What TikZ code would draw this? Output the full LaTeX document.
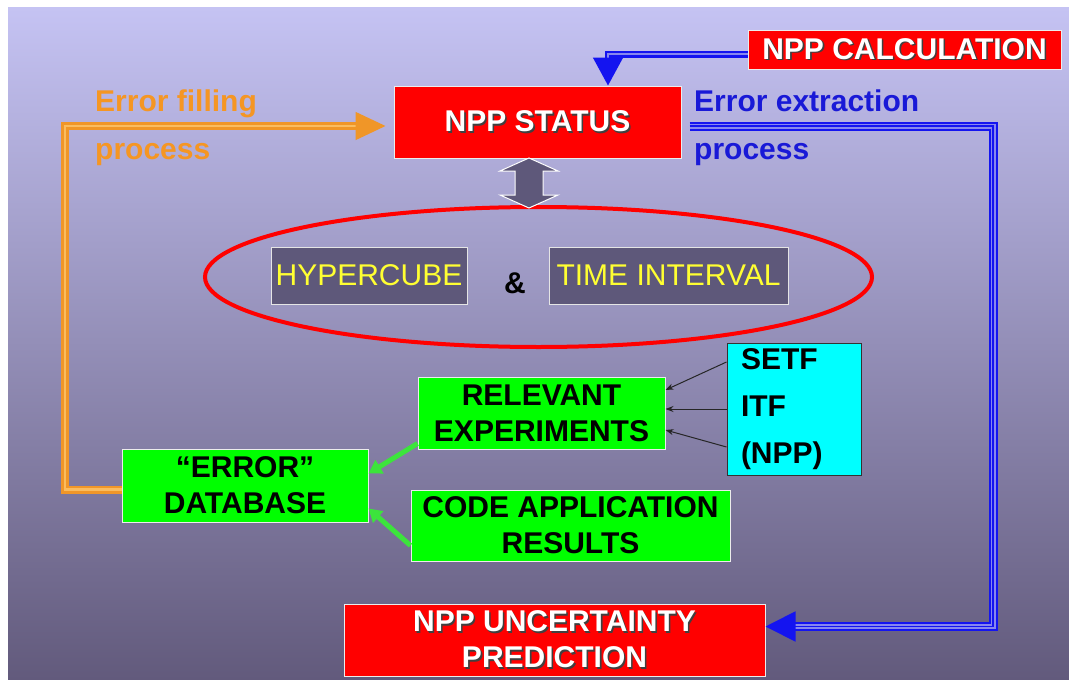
\documentclass[tikz,border=0pt]{standalone}
\usepackage{fontspec}
\setmainfont{Liberation Sans}
\usetikzlibrary{shapes.geometric,arrows.meta}
\definecolor{bgtop}{RGB}{197,195,243}
\definecolor{bgmid}{RGB}{150,145,198}
\definecolor{bgbot}{RGB}{98,90,124}
\definecolor{orgC}{RGB}{240,150,40}
\definecolor{orgL}{RGB}{250,188,95}
\definecolor{orgT}{RGB}{245,150,35}
\definecolor{blueC}{RGB}{20,20,240}
\definecolor{blueG}{RGB}{135,135,238}
\definecolor{blueT}{RGB}{25,25,215}
\definecolor{grayF}{RGB}{94,88,122}
\definecolor{greenF}{RGB}{0,255,0}
\definecolor{greenA}{RGB}{60,228,60}
\definecolor{cyanF}{RGB}{0,255,255}
\definecolor{yellowT}{RGB}{255,255,50}
\newcommand\shd[1]{\leavevmode\rlap{\kern1.6pt\raisebox{-1.6pt}{\color{black!75}#1}}#1}
\begin{document}
\begin{tikzpicture}[x=1pt,y=-1pt,
  every node/.style={font=\fontsize{30}{36}\selectfont\bfseries},
  redbox/.style={fill=red, draw=white!85!gray, line width=1, text=white, inner sep=0, align=center},
  greenbox/.style={fill=greenF, draw=white!85!gray, line width=1, text=black, inner sep=0, align=center},
  graybox/.style={fill=grayF, draw=white!80!gray, line width=1, text=yellowT, inner sep=0, font=\fontsize{30}{36}\selectfont},
  cyanbox/.style={fill=cyanF, draw=black!80, line width=1, text=black, inner xsep=14, inner ysep=0, align=left},
  orangeline/.style={draw=orgL, line width=1.5, -{Triangle[length=30,width=28,color=orgC]},
    preaction={draw=orgC, line width=8, -, shorten >=15},
    preaction={draw=orgL, line width=2.5, -, shorten >=15}},
  bluedouble/.style={draw=blueG, line width=1.5, -{Triangle[length=28,width=30,color=blueC]},
    preaction={draw=blueC, line width=7, -, shorten >=14},
    preaction={draw=blueG, line width=2.5, -, shorten >=14}},
  bluetriple/.style={draw=blueC, line width=1.8, -{Triangle[length=30,width=30]},
    preaction={draw=blueC, line width=9, -, shorten >=15},
    preaction={draw=blueG, line width=5, -, shorten >=15}},
  greenarrow/.style={draw=greenA, line width=5, -{Triangle[length=13,width=15]}},
  thinarrow/.style={draw=black!85, line width=1, -{Stealth[length=8,width=6]}}
]
\useasboundingbox (0,0) rectangle (1069,680);
\fill[white] (0,0) rectangle (1069,680);
\shade[top color=bgtop, middle color=bgmid, bottom color=bgbot] (8,7) rectangle (1069,680);

% boxes
\node[redbox, minimum width=313, minimum height=39] (calc) at (904.5,49.5) {\shd{NPP CALCULATION}};
\node[redbox, minimum width=287, minimum height=72] (status) at (537.5,122) {\shd{NPP STATUS}};
\node[redbox, minimum width=421, minimum height=72] (unc) at (554.5,640) {\shd{NPP UNCERTAINTY}\\\shd{PREDICTION}};

\node[draw=red, line width=4, ellipse, minimum width=667, minimum height=140, inner sep=0] (ell) at (538.5,277) {};
\node[graybox, minimum width=196, minimum height=57] (hyper) at (369,275.5) {HYPERCUBE};
\node[graybox, minimum width=239, minimum height=57] (time) at (668.5,275.5) {TIME INTERVAL};
\node[inner sep=0] (amp) at (515,283) {\&};

\node[greenbox, minimum width=247, minimum height=72] (rel) at (541.5,413) {RELEVANT\\EXPERIMENTS};
\node[greenbox, minimum width=246, minimum height=73] (db) at (245,485.5) {“ERROR”\\DATABASE};
\node[greenbox, minimum width=319, minimum height=71] (code) at (570.5,525.5) {CODE APPLICATION\\RESULTS};
\node[cyanbox, minimum height=132, text width=106, font=\fontsize{30}{47}\selectfont\bfseries] (src) at (794,409) {\raisebox{-3pt}{SETF}\\\raisebox{-3pt}{ITF}\\\raisebox{-3pt}{(NPP)}};

% labels
\node[anchor=west, inner sep=0, text=orgT, align=left, font=\fontsize{30}{48}\selectfont\bfseries] (fillp) at (95,128) {Error filling\\process};
\node[anchor=west, inner sep=0, text=blueT, align=left, font=\fontsize{30}{48}\selectfont\bfseries] (extrp) at (694,128) {Error extraction\\process};

% grey double arrow
\draw[fill=grayF, draw=white, line width=1] (529,158) -- (558,171) -- (543,171) -- (543,195) -- (558,195) -- (529,208) -- (500,195) -- (515,195) -- (515,171) -- (500,171) -- cycle;

% connectors
\coordinate (lc) at (65,300);
\coordinate (rc) at (993,400);
\draw[orangeline] ([yshift=-4pt]db.west) -| (lc) |- ([xshift=-8pt,yshift=-4pt]status.west);
\draw[bluedouble] ([yshift=-4.5pt]calc.west) -| ([xshift=70.5pt]status.north);
\draw[bluetriple] ([xshift=8pt,yshift=-4pt]status.east) -| (rc) |- ([yshift=13.5pt]unc.east);

\draw[greenarrow] ([yshift=6pt]rel.south west) -- ([yshift=12pt]db.east);
\draw[greenarrow] ([yshift=-20pt]code.west) -- ([yshift=-23pt]db.east);

\draw[thinarrow] ([yshift=47pt]src.west) -- ([yshift=23pt]rel.east);
\draw[thinarrow] (src.west) -- ([yshift=4pt]rel.east);
\draw[thinarrow] ([yshift=-38pt]src.west) -- ([yshift=-17pt]rel.east);
\end{tikzpicture}
\end{document}
